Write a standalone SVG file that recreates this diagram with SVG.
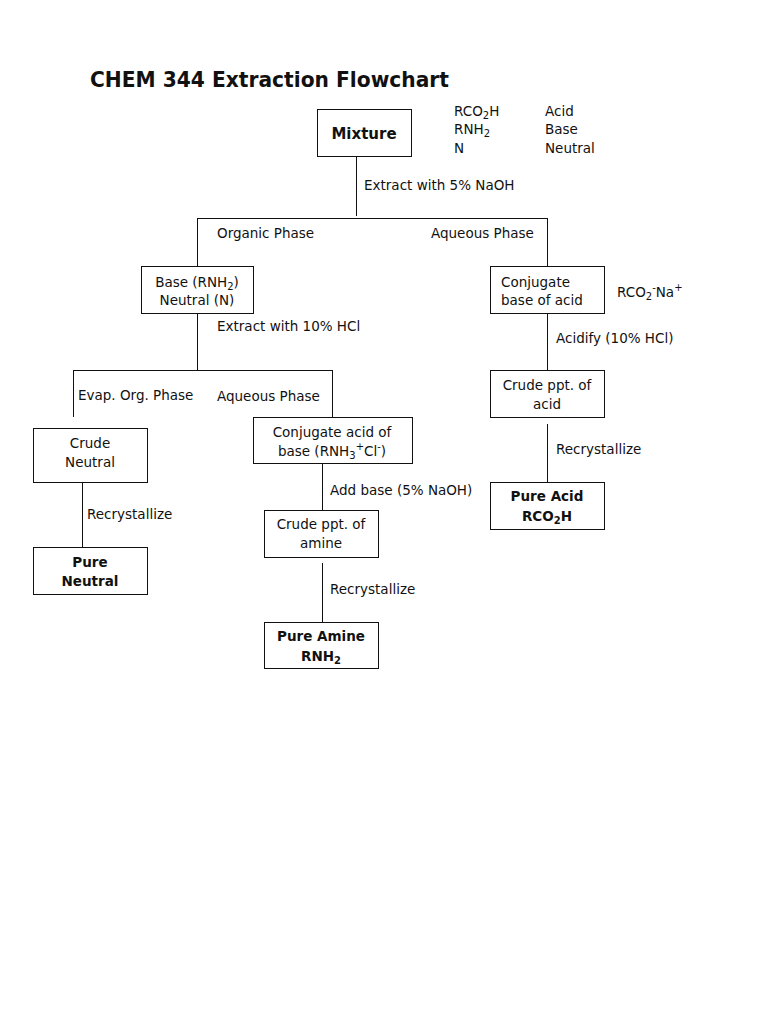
<svg xmlns="http://www.w3.org/2000/svg" width="768" height="1024" viewBox="0 0 768 1024">
<style>
  text { font-family: "DejaVu Sans", Verdana, sans-serif; font-size: 13.5px; fill: #111; }
  .title { font-size: 22px; font-weight: bold; }
  .b { font-weight: bold; }
  .mix { font-size: 15px; font-weight: bold; }
  .c { text-anchor: middle; }
  .box { fill: #fff; stroke: #111; stroke-width: 1; }
  .ln { stroke: #111; stroke-width: 1; fill: none; }
  .s { font-size: 10px; }
</style>
<rect width="768" height="1024" fill="#fff"/>
<text class="title" x="90" y="87" textLength="359" lengthAdjust="spacingAndGlyphs">CHEM 344 Extraction Flowchart</text>

<g id="legend">
  <text x="454" y="116">RCO<tspan class="s" dy="3">2</tspan><tspan dy="-3">H</tspan></text>
  <text x="454" y="134">RNH<tspan class="s" dy="3">2</tspan></text>
  <text x="454" y="153">N</text>
  <text x="545" y="116">Acid</text>
  <text x="545" y="134">Base</text>
  <text x="545" y="153">Neutral</text>
</g>

<g id="connectors">
  <path class="ln" d="M356.5 156 V216 M197.5 218.5 H547.5 M197.5 218 V266 M547.5 218 V266"/>
  <path class="ln" d="M197.5 313 V370.5 M73.5 370.5 H332.5 M73.5 370 V417 M332.5 370 V417"/>
  <path class="ln" d="M82.5 483 V547"/>
  <path class="ln" d="M322.5 463 V510 M322.5 563 V622"/>
  <path class="ln" d="M547.5 313 V370 M547.5 424 V482"/>
  <text x="364" y="190">Extract with 5% NaOH</text>
  <text x="217" y="238">Organic Phase</text>
  <text x="431" y="238">Aqueous Phase</text>
  <text x="217" y="331">Extract with 10% HCl</text>
  <text x="78" y="400">Evap. Org. Phase</text>
  <text x="217" y="401">Aqueous Phase</text>
  <text x="87" y="519">Recrystallize</text>
  <text x="330" y="495">Add base (5% NaOH)</text>
  <text x="330" y="594">Recrystallize</text>
  <text x="556" y="343">Acidify (10% HCl)</text>
  <text x="556" y="454">Recrystallize</text>
  <text x="617" y="297">RCO<tspan class="s" dy="3">2</tspan><tspan class="s" dy="-9">-</tspan><tspan dy="6">Na</tspan><tspan class="s" dy="-6">+</tspan></text>
</g>

<g id="mixture">
  <rect class="box" x="317.5" y="109.5" width="94" height="47"/>
  <text class="mix c" x="364" y="139">Mixture</text>
</g>

<g id="base-neutral">
  <rect class="box" x="141.5" y="266.5" width="112" height="47"/>
  <text class="c" x="197" y="287">Base (RNH<tspan class="s" dy="3">2</tspan><tspan dy="-3">)</tspan></text>
  <text class="c" x="197" y="305">Neutral (N)</text>
</g>

<g id="conj-base">
  <rect class="box" x="490.5" y="266.5" width="114" height="47"/>
  <text x="501" y="287">Conjugate</text>
  <text x="501" y="305">base of acid</text>
</g>

<g id="crude-acid">
  <rect class="box" x="490.5" y="370.5" width="114" height="47"/>
  <text class="c" x="547" y="390">Crude ppt. of</text>
  <text class="c" x="547" y="409">acid</text>
</g>

<g id="pure-acid">
  <rect class="box" x="490.5" y="482.5" width="114" height="47"/>
  <text class="b c" x="547" y="501">Pure Acid</text>
  <text class="b c" x="547" y="521">RCO<tspan class="s" dy="3">2</tspan><tspan dy="-3">H</tspan></text>
</g>

<g id="crude-neutral">
  <rect class="box" x="33.5" y="428.5" width="114" height="54"/>
  <text class="c" x="90" y="448">Crude</text>
  <text class="c" x="90" y="467">Neutral</text>
</g>

<g id="pure-neutral">
  <rect class="box" x="33.5" y="547.5" width="114" height="47"/>
  <text class="b c" x="90" y="567">Pure</text>
  <text class="b c" x="90" y="586">Neutral</text>
</g>

<g id="conj-acid">
  <rect class="box" x="253.5" y="417.5" width="159" height="46"/>
  <text class="c" x="332" y="437">Conjugate acid of</text>
  <text class="c" x="332" y="456">base (RNH<tspan class="s" dy="3">3</tspan><tspan class="s" dy="-9">+</tspan><tspan dy="6">Cl</tspan><tspan class="s" dy="-6">-</tspan><tspan dy="6">)</tspan></text>
</g>

<g id="crude-amine">
  <rect class="box" x="264.5" y="510.5" width="114" height="47"/>
  <text class="c" x="321" y="529">Crude ppt. of</text>
  <text class="c" x="321" y="548">amine</text>
</g>

<g id="pure-amine">
  <rect class="box" x="264.5" y="622.5" width="114" height="46"/>
  <text class="b c" x="321" y="641">Pure Amine</text>
  <text class="b c" x="321" y="661">RNH<tspan class="s" dy="3">2</tspan></text>
</g>
</svg>
